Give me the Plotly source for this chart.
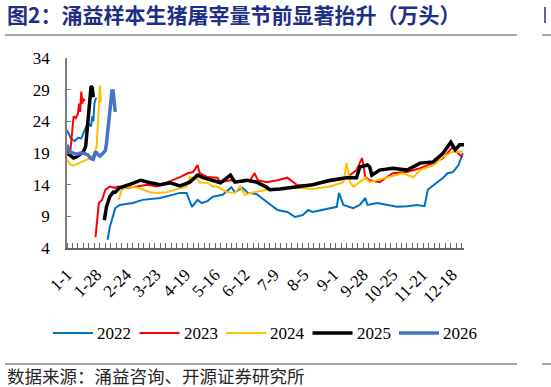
import plotly.graph_objects as go

# ---- tick labels (day-of-year positions, every 27 days) ----
tick_days = [0, 27, 54, 81, 108, 135, 162, 189, 216, 243, 270, 297, 324, 351]
tick_labels = ["1-1", "1-28", "2-24", "3-23", "4-19", "5-16", "6-12",
               "7-9", "8-5", "9-1", "9-28", "10-25", "11-21", "12-18"]

# ---- 2022 ----
d2022_pre = [0, 2, 4, 7, 10, 13, 16, 19, 22, 23, 24, 25, 26, 27]
v2022_pre = [22.6, 22.0, 21.2, 20.9, 21.4, 21.3, 22.5, 23.8, 23.2, 24.8, 24.0, 26.8, 27.5, 27.7]
d2022_post = [37, 39, 44, 48, 60, 69, 85, 96, 103, 109, 112, 114, 119, 123, 128, 133, 142, 150,
              153, 160, 165, 173, 182, 192, 201, 208, 215, 220, 224, 233, 246, 248, 252, 261,
              267, 272, 274, 283, 292, 301, 310, 319, 326, 329, 337, 343, 347, 352, 357, 361]
v2022_post = [5.3, 7.3, 10.3, 10.8, 11.1, 11.6, 11.9, 12.4, 12.7, 12.7, 11.3, 10.5, 11.6, 11.1,
              11.4, 12.1, 12.4, 13.6, 12.8, 13.5, 12.7, 12.5, 11.3, 10.0, 9.7, 8.9, 9.2, 10.0,
              9.7, 10.0, 10.5, 12.7, 10.8, 10.3, 10.8, 11.9, 10.8, 11.1, 10.8, 10.5, 10.6, 10.8,
              10.6, 13.2, 14.3, 15.1, 15.8, 16.0, 17.1, 19.0]

# ---- 2023 ----
d2023_pre = [0, 3, 4, 5, 6, 8, 10, 11, 12, 13, 14, 15, 16]
v2023_pre = [19.3, 19.3, 21.0, 23.5, 24.8, 24.5, 25.2, 26.8, 25.5, 28.7, 26.8, 27.6, 27.2]
d2023_post = [26, 29, 32, 35, 39, 44, 46, 55, 64, 73, 82, 91, 97, 103, 110, 115, 119, 121, 128,
              137, 140, 149, 158, 167, 171, 174, 182, 192, 201, 206, 210, 219, 233, 246, 255,
              264, 269, 270, 272, 276, 285, 297, 310, 322, 334, 343, 351, 354, 358, 361]
v2023_post = [5.7, 11.1, 11.6, 13.2, 13.7, 13.5, 13.7, 13.5, 13.7, 14.0, 13.7, 14.3, 14.7, 15.2,
              15.8, 16.0, 17.1, 15.8, 15.2, 15.1, 14.4, 14.7, 14.4, 14.7, 15.8, 14.7, 14.4, 14.7,
              15.1, 14.4, 13.9, 13.9, 14.3, 14.7, 15.1, 16.3, 18.2, 17.4, 15.2, 14.7, 14.4, 15.8,
              16.0, 16.6, 17.4, 18.2, 19.8, 19.5, 18.7, 18.4]

# ---- 2024 ----
d2024_pre = [0, 3, 6, 10, 14, 18, 21, 24, 27, 28, 29, 30, 31]
v2024_pre = [18.0, 17.2, 17.0, 17.3, 17.7, 18.0, 18.2, 18.6, 20.0, 23.0, 27.5, 29.7, 27.0]
d2024_post = [47, 50, 53, 57, 64, 69, 76, 82, 91, 100, 109, 112, 119, 121, 128, 133, 137, 146,
              153, 158, 162, 170, 182, 194, 210, 224, 240, 252, 255, 258, 261, 267, 272, 276,
              292, 306, 310, 316, 322, 334, 343, 352, 361]
v2024_post = [11.6, 13.2, 13.5, 13.7, 13.5, 13.2, 12.8, 12.7, 12.8, 13.3, 13.7, 15.2, 14.9, 14.3,
              14.3, 13.7, 13.7, 12.8, 12.7, 13.7, 12.4, 12.8, 13.2, 13.3, 13.5, 13.3, 13.7, 14.4,
              17.4, 14.4, 13.7, 14.4, 15.1, 14.4, 15.1, 15.8, 15.5, 15.2, 16.3, 17.1, 18.4, 19.2,
              19.2]

# ---- 2025 ----
d2025_pre = [0, 3, 6, 9, 12, 15, 17, 18, 19, 20, 21, 22, 23, 24]
v2025_pre = [19.0, 18.6, 18.2, 18.4, 18.8, 19.2, 20.0, 22.0, 24.7, 27.0, 28.8, 29.6, 29.3, 27.8]
d2025_post = [34, 36, 39, 42, 44, 48, 60, 67, 76, 85, 94, 103, 112, 119, 124, 133, 140, 149,
              153, 164, 173, 181, 185, 194, 210, 224, 240, 255, 264, 267, 274, 276, 278, 285,
              297, 310, 322, 334, 343, 350, 354, 358, 362]
v2025_post = [8.4, 10.5, 12.1, 12.8, 12.8, 13.5, 14.2, 14.7, 14.3, 14.0, 14.3, 13.8, 14.4, 15.5,
              15.1, 14.7, 14.3, 15.5, 14.4, 14.7, 14.4, 13.7, 13.2, 13.3, 13.7, 14.0, 14.7, 15.1,
              15.1, 16.8, 17.1, 16.8, 15.5, 16.3, 16.6, 16.3, 17.4, 17.6, 19.0, 20.7, 19.5, 20.3,
              20.3]

# ---- 2026 ----
d2026 = [0, 2, 5, 9, 12, 15, 19, 22, 24, 26, 28, 30, 33, 35, 36, 38, 40, 41, 42, 43, 44]
v2026 = [20.3, 19.3, 19.0, 18.8, 19.0, 19.0, 18.7, 18.1, 18.0, 19.2, 18.8, 18.5, 19.0, 19.4,
         20.5, 23.5, 27.0, 28.8, 28.8, 27.5, 25.5]

series = [
    ("2022", d2022_pre, v2022_pre, d2022_post, v2022_post, "#0070C0", 2),
    ("2023", d2023_pre, v2023_pre, d2023_post, v2023_post, "#FF0000", 2),
    ("2024", d2024_pre, v2024_pre, d2024_post, v2024_post, "#FFC000", 2),
    ("2025", d2025_pre, v2025_pre, d2025_post, v2025_post, "#000000", 3.5),
    ("2026", d2026, v2026, [], [], "#4472C4", 3.5),
]

fig = go.Figure()
for name, dp, vp, dq, vq, color, w in series:
    if dq:
        xs = dp + [(dp[-1] + dq[0]) / 2] + dq
        ys = vp + [None] + vq
    else:
        xs, ys = dp, vp
    fig.add_trace(go.Scatter(x=xs, y=ys, mode="lines", name=name,
                             line=dict(color=color, width=w), connectgaps=False))

# layout geometry (pixels)
W, H = 551, 387
L, R, T, B = 67, 464, 58, 248
pw, ph = R - L, B - T

def px_x(p):
    return (p - L) / pw

def px_y(p):
    return (B - p) / ph

serif = "Liberation Serif"
cjk = "Noto Sans CJK SC"

fig.update_layout(
    width=W, height=H,
    margin=dict(l=L, r=W - R, t=T, b=H - B, pad=0, autoexpand=False),
    paper_bgcolor="white", plot_bgcolor="white",
    showlegend=False,
    hovermode=False,
    title=dict(text="<b>图2：涌益样本生猪屠宰量节前显著抬升（万头）</b>",
               x=7 / W, xanchor="left", xref="container",
               y=1 - 16 / H, yanchor="middle", yref="container",
               font=dict(family=cjk, size=21, color="#1F2F86")),
    xaxis=dict(range=[0, 362], tickmode="array", tickvals=tick_days, ticktext=tick_labels,
               tickangle=-45, ticks="", showgrid=False, zeroline=False,
               showline=True, linecolor="#666666", linewidth=2,
               tickfont=dict(family=serif, size=17, color="black"),
               ticklabelstandoff=8,
               minor=dict(tickmode="linear", tick0=0, dtick=5, ticks="inside", ticklen=5,
                          tickcolor="#666666", tickwidth=1, showgrid=False)),
    yaxis=dict(range=[4, 34], tickmode="array", tickvals=[4, 9, 14, 19, 24, 29, 34],
               ticks="inside", ticklen=4, tickcolor="#7f7f7f", showgrid=False, zeroline=False,
               showline=True, linecolor="#7f7f7f", linewidth=1.5,
               tickfont=dict(family=serif, size=17, color="black"),
               ticklabelstandoff=12),
)

# legend drawn as line swatches + labels below the plot
leg_x0, leg_step, leg_y = 53, 86.5, 333
for i, (name, _, _, _, _, color, w) in enumerate(series):
    x0 = leg_x0 + i * leg_step
    fig.add_shape(type="line", xref="paper", yref="paper",
                  x0=px_x(x0), x1=px_x(x0 + 40), y0=px_y(leg_y), y1=px_y(leg_y),
                  line=dict(color=color, width=w))
    fig.add_annotation(text=name, xref="paper", yref="paper",
                       x=px_x(x0 + 42), y=px_y(leg_y), xanchor="left", yanchor="middle",
                       showarrow=False, font=dict(family=serif, size=17, color="black"))

# separator lines (title / source)
for yy in (35, 364):
    fig.add_shape(type="line", xref="paper", yref="paper",
                  x0=px_x(5), x1=px_x(517), y0=px_y(yy), y1=px_y(yy),
                  line=dict(color="#A6A6A6", width=2))
    fig.add_shape(type="line", xref="paper", yref="paper",
                  x0=px_x(542), x1=px_x(560), y0=px_y(yy), y1=px_y(yy),
                  line=dict(color="#A6A6A6", width=2))

fig.add_annotation(text="数据来源：涌益咨询、开源证券研究所", xref="paper", yref="paper",
                   x=px_x(6), y=px_y(375), xanchor="left", yanchor="middle", showarrow=False,
                   borderpad=0, font=dict(family=cjk, size=17.5, color="#262626"))
# edge fragment of the neighbouring chart's title
fig.add_shape(type="line", xref="paper", yref="paper",
              x0=px_x(545), x1=px_x(545), y0=px_y(7), y1=px_y(23),
              line=dict(color="#1F2F86", width=1.5))

fig.write_html("out.html", config={"displayModeBar": False},
               post_script="document.body.style.margin='0px';")
